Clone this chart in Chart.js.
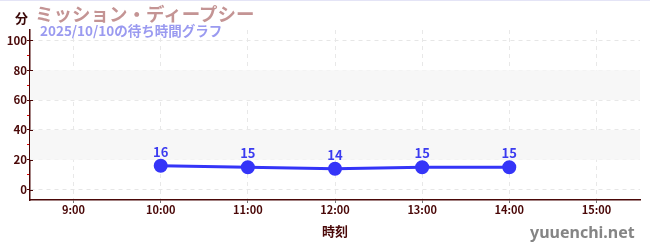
<!DOCTYPE html>
<html lang="ja">
<head>
<meta charset="utf-8">
<script src="https://cdn.jsdelivr.net/npm/chart.js@4"></script>
<style>
  html, body { margin: 0; padding: 0; background: #fff; }
  #wrap { position: relative; width: 650px; height: 250px; overflow: hidden; }
  #wrap canvas { position: absolute; left: 0; top: 0; }
  .topline { position: absolute; left: 0; top: 0; width: 650px; height: 1px; background: #e4e4f6; }
  .txt { position: absolute; font-family: 'Noto Sans CJK JP', 'Noto Sans', sans-serif; font-weight: bold; white-space: nowrap; line-height: 1; }
  #unit { left: 15px; top: 11px; font-size: 13px; color: #3a0808; }
  #title { left: 35px; top: 4px; font-size: 18.5px; color: #c49494; }
  #sub { left: 40px; top: 24px; font-size: 13.5px; color: #9a9af0; }
  #mark { left: 530px; top: 224px; font-size: 16px; color: #858585; font-family: 'Noto Sans', sans-serif; }
</style>
</head>
<body>
<div id="wrap">
  <canvas id="chart" width="650" height="250"></canvas>
  <div class="topline"></div>
  <div class="txt" id="unit">分</div>
  <div class="txt" id="title">ミッション・ディープシー</div>
  <div class="txt" id="sub">2025/10/10の待ち時間グラフ</div>
  <div class="txt" id="mark">yuuenchi.net</div>
</div>
<script>
// データ
const hours = ["9:00", "10:00", "11:00", "12:00", "13:00", "14:00", "15:00"];
const waits = [null, 16, 15, 14, 15, 15, null];
const yTicks = [0, 10, 20, 30, 40, 50, 60, 70, 80, 90, 100];
const bands = [[20, 40], [60, 80]];

const AXIS = "#4a0808";
Chart.defaults.font.family = "'Noto Sans CJK JP', 'Noto Sans', sans-serif";

// 背景の帯
const bandPlugin = {
  id: "bands",
  beforeDatasetsDraw(chart) {
    const { ctx, chartArea, scales } = chart;
    ctx.save();
    ctx.fillStyle = "#f7f7f7";
    bands.forEach(([a, b]) => {
      const y1 = scales.y.getPixelForValue(b);
      const y2 = scales.y.getPixelForValue(a);
      ctx.fillRect(chartArea.left, y1, chartArea.right - chartArea.left, y2 - y1);
    });
    ctx.restore();
  }
};

// 点の上の数値
const labelPlugin = {
  id: "pointLabels",
  afterDatasetsDraw(chart) {
    const { ctx } = chart;
    const meta = chart.getDatasetMeta(0);
    ctx.save();
    ctx.font = "bold 13px 'Noto Sans CJK JP', 'Noto Sans', sans-serif";
    ctx.fillStyle = "#3b3bf0";
    ctx.textAlign = "center";
    ctx.textBaseline = "middle";
    meta.data.forEach((pt, i) => {
      const v = waits[i];
      if (v == null) return;
      ctx.fillText(String(v), pt.x, pt.y - 14);
    });
    ctx.restore();
  }
};

// 軸の内側の目盛り
const innerTickPlugin = {
  id: "innerTicks",
  afterDraw(chart) {
    const { ctx, scales } = chart;
    const y = scales.y;
    ctx.save();
    ctx.lineWidth = 1;
    ctx.strokeStyle = AXIS;
    yTicks.forEach(v => {
      if (v % 20 !== 0) return;
      const py = Math.round(y.getPixelForValue(v)) + 0.5;
      ctx.beginPath();
      ctx.moveTo(y.right, py);
      ctx.lineTo(y.right + 3, py);
      ctx.stroke();
    });
    ctx.restore();
  }
};

new Chart(document.getElementById("chart"), {
  type: "line",
  data: {
    labels: hours,
    datasets: [{
      data: waits,
      borderColor: "#3535f8",
      backgroundColor: "#3535f8",
      borderWidth: 3,
      pointRadius: 5.5,
      pointHoverRadius: 5.5,
      tension: 0
    }]
  },
  options: {
    responsive: false,
    animation: false,
    events: [],
    layout: { padding: { top: 30, right: 10, left: 0, bottom: 0 } },
    plugins: { legend: { display: false }, tooltip: { enabled: false } },
    scales: {
      x: {
        offset: true,
        grid: {
          offset: false,
          color: "#e8e8e8",
          tickColor: "#777",
          tickLength: 3
        },
        border: { color: AXIS, width: 1.5, dash: [4, 4] },
        ticks: {
          color: AXIS,
          padding: 0,
          maxRotation: 0,
          font: { size: 11, weight: "bold" }
        },
        title: {
          display: true,
          text: "時刻",
          color: AXIS,
          padding: { top: 0, bottom: 11 },
          font: { size: 13, weight: "bold" }
        },
        afterFit(s) { s.height = 50; }
      },
      y: {
        min: -7,
        max: 107,
        afterBuildTicks(s) { s.ticks = yTicks.map(v => ({ value: v })); },
        grid: {
          color: c => (c.tick && c.tick.value % 20 === 0) ? "#e6e6e6" : "rgba(0,0,0,0)",
          tickColor: c => (c.tick && c.tick.value % 20 === 0) ? AXIS : "#e00000",
          tickLength: 3
        },
        border: { color: AXIS, width: 1.5, dash: [4, 4] },
        ticks: {
          color: AXIS,
          padding: 0,
          font: { size: 11.5, weight: "bold" },
          callback: v => (v % 20 === 0 ? String(v) : "")
        },
        afterFit(s) { s.width = 30; }
      }
    }
  },
  plugins: [bandPlugin, labelPlugin, innerTickPlugin]
});
</script>
</body>
</html>
